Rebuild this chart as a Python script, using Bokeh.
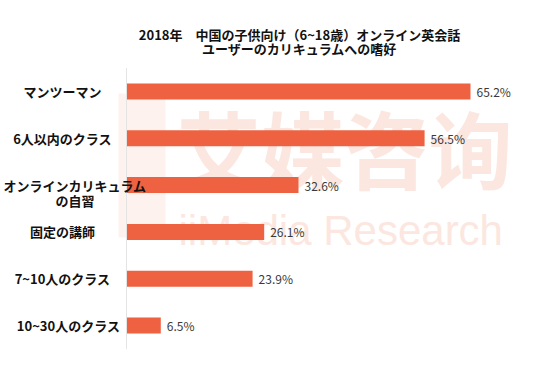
from bokeh.plotting import figure
from bokeh.models import ColumnDataSource, LabelSet, Label, BoxAnnotation
from bokeh.core.properties import value
from bokeh.embed import file_html
from bokeh.resources import INLINE

title_lines = ["2018年　中国の子供向け（6~18歳）オンライン英会話",
               "ユーザーのカリキュラムへの嗜好"]
categories = ["マンツーマン", "6人以内のクラス", "オンラインカリキュラム\nの自習",
              "固定の講師", "7~10人のクラス", "10~30人のクラス"]
values = [65.2, 56.5, 32.6, 26.1, 23.9, 6.5]
value_labels = [f"{v:.1f}%" for v in values]

BAR = "#ee6141"
CJK = "Noto Sans CJK JP"
n = len(categories)
pos = [n - 1 - i for i in range(n)]  # top category first

# category label lines and horizontal offsets (style): centred ~64px left of the axis
LABEL_FS = 13
line1 = [c.split("\n")[0] for c in categories]
line2 = [c.split("\n")[1] if "\n" in c else "" for c in categories]
label_dx = []
for c in categories:
    half = max(len(s) for s in c.split("\n")) * LABEL_FS / 2
    label_dx.append(-min(64, 126 - half - 3))

src = ColumnDataSource(dict(pos=pos, l1=line1, l2=line2, val=values, lab=value_labels,
                            zero=[0] * n, dx=label_dx))

p = figure(width=538, height=351, output_backend="svg", toolbar_location=None,
           x_range=(-23.88, 78.09), y_range=(-0.5556, n - 1 + 1.944),
           min_border=0)
p.outline_line_color = None
p.xaxis.visible = False
p.yaxis.visible = False
p.xgrid.visible = False
p.ygrid.visible = False

# watermark (underlay)
WM = "#fce7e0"
p.add_layout(BoxAnnotation(left=118, right=165, top=258, bottom=114,
                           left_units="screen", right_units="screen",
                           top_units="screen", bottom_units="screen",
                           fill_color=WM, fill_alpha=0.55, line_color=None, level="underlay"))
p.add_layout(Label(x=176, y=205, x_units="screen", y_units="screen", text="艾媒咨询",
                   text_font="Noto Sans CJK SC", text_font_size="84px", text_font_style="bold",
                   text_color=WM, text_baseline="middle", text_align="left", level="underlay"))
p.add_layout(Label(x=178, y=121, x_units="screen", y_units="screen", text="iiMedia Research",
                   text_font="Liberation Sans", text_font_size="42px", text_color=WM,
                   text_baseline="alphabetic", text_align="left", level="underlay"))

p.hbar(y="pos", right="val", left=0, height=0.342, source=src,
       fill_color=BAR, line_color=None)

# axis line
p.segment(x0=[0], y0=[-0.5], x1=[0], y1=[n - 0.5], line_color="#e4e4e4", line_width=1)

p.add_layout(LabelSet(x="val", y="pos", text="lab", source=src, x_offset=6,
                      text_font=value(CJK), text_font_size="12px",
                      text_color="#3a3a3a", text_align="left", text_baseline="middle"))

for col, dy in (("l1", 0), ("l2", -15)):
    p.add_layout(LabelSet(x="zero", y="pos", text=col, source=src, x_offset="dx", y_offset=dy,
                          text_font=value(CJK), text_font_size=f"{LABEL_FS}px",
                          text_font_style="bold", text_color="#111111",
                          text_align="center", text_baseline="middle"))

for t, yy in zip(title_lines, [317, 303]):
    p.add_layout(Label(x=299, y=yy, x_units="screen", y_units="screen", text=t,
                       text_font=CJK, text_font_size="13px", text_font_style="bold",
                       text_color="#111111", text_align="center", text_baseline="middle"))

open("out.html", "w").write(file_html(p, INLINE))
